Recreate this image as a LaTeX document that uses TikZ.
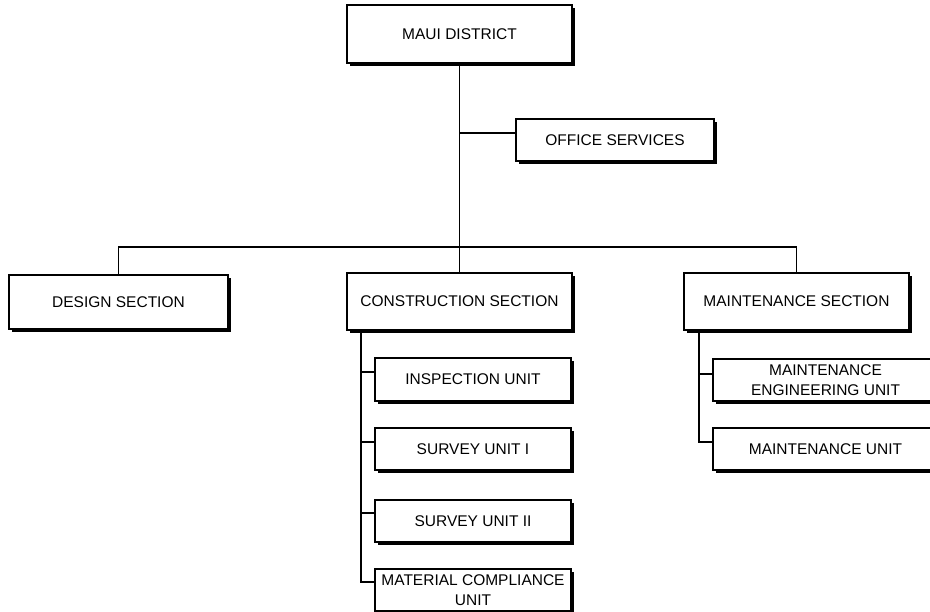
\documentclass[tikz,border=0pt]{standalone}
\usepackage{fontspec}
\setmainfont{Liberation Sans}
\usetikzlibrary{shadows}
\begin{document}
\begin{tikzpicture}[x=1pt,y=-1pt,
  box/.style={draw, line width=1.4pt, fill=white, inner sep=0pt, align=center,
    font=\fontsize{15.5}{19.5}\selectfont,
    drop shadow={shadow xshift=2.6pt, shadow yshift=-2.6pt, opacity=1, fill=black}},
  link/.style={line width=1.5pt}]
\clip (0,0) rectangle (930,612);
\fill[white] (0,0) rectangle (930,612);

% top level
\node[box, minimum width=225pt, minimum height=58pt] (maui) at (459.5,34) {MAUI DISTRICT};
\node[box, minimum width=198pt, minimum height=42pt] (office) at (615,140) {OFFICE SERVICES};

% sections
\node[box, minimum width=219pt, minimum height=54pt] (design) at (118.5,302) {DESIGN SECTION};
\node[box, minimum width=225pt, minimum height=57pt] (cons) at (459.5,301.5) {CONSTRUCTION SECTION};
\node[box, minimum width=225pt, minimum height=57pt] (maint) at (796.5,301.5) {MAINTENANCE SECTION};

% construction units
\node[box, minimum width=196pt, minimum height=43pt] (insp) at (473,379.5) {INSPECTION UNIT};
\node[box, minimum width=196pt, minimum height=42pt] (surv1) at (473,449) {SURVEY UNIT I};
\node[box, minimum width=196pt, minimum height=42pt] (surv2) at (473,521) {SURVEY UNIT II};
\node[box, minimum width=196pt, minimum height=42pt] (matl) at (473,590) {MATERIAL COMPLIANCE\\UNIT};

% maintenance units
\node[box, minimum width=225pt, minimum height=42pt] (meng) at (825.5,380) {MAINTENANCE\\ENGINEERING UNIT};
\node[box, minimum width=225pt, minimum height=42pt] (munit) at (825.5,449) {MAINTENANCE UNIT};

% junction points
\coordinate (bar) at (459.5,247);
\coordinate (ob) at (459.5,133);
\coordinate (cspine) at (361,330);
\coordinate (bi) at (361,372);
\coordinate (bs1) at (361,442);
\coordinate (bs2) at (361,513);
\coordinate (bm) at (361,582);
\coordinate (mspine) at (699,330);
\coordinate (be) at (699,374);
\coordinate (bu) at (699,442);

% trunk, office branch and section bar
\draw[link] (maui.south) -- (cons.north);
\draw[link] (ob) -- (ob -| office.west);
\draw[link] (design.north) |- (bar) -| (maint.north);

% construction spine
\draw[link] (cspine) -- (bm) -- (bm -| matl.west);
\draw[link] (bi) -- (bi -| insp.west);
\draw[link] (bs1) -- (bs1 -| surv1.west);
\draw[link] (bs2) -- (bs2 -| surv2.west);

% maintenance spine
\draw[link] (mspine) -- (bu) -- (bu -| munit.west);
\draw[link] (be) -- (be -| meng.west);
\end{tikzpicture}
\end{document}
